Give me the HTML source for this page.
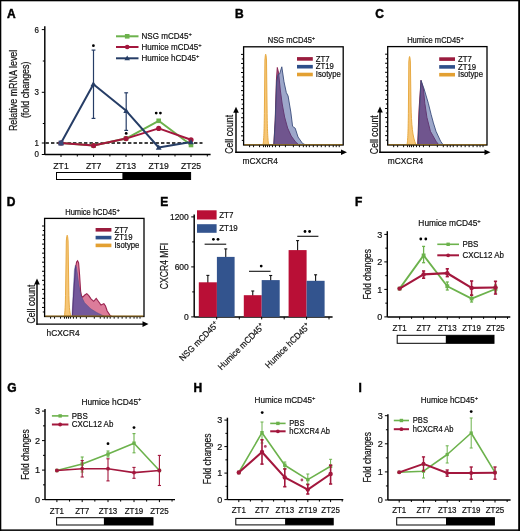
<!DOCTYPE html>
<html><head><meta charset="utf-8"><style>
html,body{margin:0;padding:0;background:#fff;}
svg{display:block;will-change:transform;font-family:"Liberation Sans", sans-serif;}
</style></head><body>
<svg width="520" height="532" viewBox="0 0 520 532">
<rect width="520" height="532" fill="#fff"/>
<rect x="0" y="0" width="520" height="1.3" fill="#000"/>
<rect x="0" y="0" width="1.3" height="531" fill="#000"/>
<rect x="518.2" y="0" width="1.8" height="531" fill="#000"/>
<rect x="0" y="529.4" width="520" height="1.5" fill="#000"/>
<text transform="translate(7.1 17.8) scale(1 1)" font-size="12" text-anchor="start" font-weight="bold" fill="#000" stroke="#000" stroke-width="0.45">A</text>
<text transform="translate(235.0 17.9) scale(1 1)" font-size="12" text-anchor="start" font-weight="bold" fill="#000" stroke="#000" stroke-width="0.45">B</text>
<text transform="translate(375.3 17.6) scale(1 1)" font-size="12" text-anchor="start" font-weight="bold" fill="#000" stroke="#000" stroke-width="0.45">C</text>
<text transform="translate(6.8 206.3) scale(1 1)" font-size="12" text-anchor="start" font-weight="bold" fill="#000" stroke="#000" stroke-width="0.45">D</text>
<text transform="translate(160.2 206.3) scale(1 1)" font-size="12" text-anchor="start" font-weight="bold" fill="#000" stroke="#000" stroke-width="0.45">E</text>
<text transform="translate(355.0 206.0) scale(1 1)" font-size="12" text-anchor="start" font-weight="bold" fill="#000" stroke="#000" stroke-width="0.45">F</text>
<text transform="translate(7.2 391.7) scale(1 1)" font-size="12" text-anchor="start" font-weight="bold" fill="#000" stroke="#000" stroke-width="0.45">G</text>
<text transform="translate(193.4 391.7) scale(1 1)" font-size="12" text-anchor="start" font-weight="bold" fill="#000" stroke="#000" stroke-width="0.45">H</text>
<text transform="translate(358.6 391.7) scale(1 1)" font-size="12" text-anchor="start" font-weight="bold" fill="#000" stroke="#000" stroke-width="0.45">I</text>
<line x1="44.8" y1="26.3" x2="44.8" y2="155" stroke="#000" stroke-width="1.45"/>
<line x1="41.8" y1="29.6" x2="44.8" y2="29.6" stroke="#000" stroke-width="1"/>
<text transform="translate(39.0 32.5) scale(0.93 1)" font-size="8.56" text-anchor="end" font-weight="normal" fill="#111" stroke="#111" stroke-width="0.2">6</text>
<line x1="41.8" y1="92.3" x2="44.8" y2="92.3" stroke="#000" stroke-width="1"/>
<text transform="translate(39.0 95.2) scale(0.93 1)" font-size="8.56" text-anchor="end" font-weight="normal" fill="#111" stroke="#111" stroke-width="0.2">3</text>
<line x1="41.8" y1="143" x2="44.8" y2="143" stroke="#000" stroke-width="1"/>
<text transform="translate(39.0 145.9) scale(0.93 1)" font-size="8.56" text-anchor="end" font-weight="normal" fill="#111" stroke="#111" stroke-width="0.2">1</text>
<line x1="41.8" y1="154.5" x2="44.8" y2="154.5" stroke="#000" stroke-width="1"/>
<text transform="translate(39.0 157.4) scale(0.93 1)" font-size="8.56" text-anchor="end" font-weight="normal" fill="#111" stroke="#111" stroke-width="0.2">0</text>
<line x1="42.8" y1="61" x2="44.8" y2="61" stroke="#000" stroke-width="1"/>
<line x1="42.8" y1="123.5" x2="44.8" y2="123.5" stroke="#000" stroke-width="1"/>
<text transform="translate(16.8 90.4) rotate(-90) scale(0.88 1)" font-size="10.17" text-anchor="middle" font-weight="normal" fill="#111" stroke="#111" stroke-width="0.2">Relative mRNA level</text>
<text transform="translate(29.2 89.8) rotate(-90) scale(0.88 1)" font-size="10.17" text-anchor="middle" font-weight="normal" fill="#111" stroke="#111" stroke-width="0.2">(fold changes)</text>
<line x1="44.8" y1="154.5" x2="210.6" y2="154.5" stroke="#000" stroke-width="1.45"/>
<line x1="61" y1="154.5" x2="61" y2="157.0" stroke="#000" stroke-width="1"/>
<line x1="93.6" y1="154.5" x2="93.6" y2="157.0" stroke="#000" stroke-width="1"/>
<line x1="126" y1="154.5" x2="126" y2="157.0" stroke="#000" stroke-width="1"/>
<line x1="158.7" y1="154.5" x2="158.7" y2="157.0" stroke="#000" stroke-width="1"/>
<line x1="191" y1="154.5" x2="191" y2="157.0" stroke="#000" stroke-width="1"/>
<line x1="77.3" y1="154.5" x2="77.3" y2="156.5" stroke="#000" stroke-width="1"/>
<line x1="109.9" y1="154.5" x2="109.9" y2="156.5" stroke="#000" stroke-width="1"/>
<line x1="142.3" y1="154.5" x2="142.3" y2="156.5" stroke="#000" stroke-width="1"/>
<line x1="175.0" y1="154.5" x2="175.0" y2="156.5" stroke="#000" stroke-width="1"/>
<line x1="207.3" y1="154.5" x2="207.3" y2="156.5" stroke="#000" stroke-width="1"/>
<text transform="translate(61 168.6) scale(0.93 1)" font-size="9.31" text-anchor="middle" font-weight="normal" fill="#111" stroke="#111" stroke-width="0.2">ZT1</text>
<text transform="translate(93.6 168.6) scale(0.93 1)" font-size="9.31" text-anchor="middle" font-weight="normal" fill="#111" stroke="#111" stroke-width="0.2">ZT7</text>
<text transform="translate(126 168.6) scale(0.93 1)" font-size="9.31" text-anchor="middle" font-weight="normal" fill="#111" stroke="#111" stroke-width="0.2">ZT13</text>
<text transform="translate(158.7 168.6) scale(0.93 1)" font-size="9.31" text-anchor="middle" font-weight="normal" fill="#111" stroke="#111" stroke-width="0.2">ZT19</text>
<text transform="translate(191 168.6) scale(0.93 1)" font-size="9.31" text-anchor="middle" font-weight="normal" fill="#111" stroke="#111" stroke-width="0.2">ZT25</text>
<rect x="56.5" y="172.5" width="134.1" height="7.0" fill="#fff" stroke="#000" stroke-width="1"/>
<rect x="122.4" y="172.5" width="68.2" height="7.0" fill="#000"/>
<line x1="45.5" y1="143" x2="202.5" y2="143" stroke="#000" stroke-width="1.4" stroke-dasharray="3.4,2.1"/>
<line x1="93.5" y1="50.1" x2="93.5" y2="118.4" stroke="#263d66" stroke-width="1.2"/>
<line x1="91.6" y1="50.1" x2="95.4" y2="50.1" stroke="#263d66" stroke-width="1.2"/>
<line x1="91.6" y1="118.4" x2="95.4" y2="118.4" stroke="#263d66" stroke-width="1.2"/>
<line x1="126.2" y1="92.8" x2="126.2" y2="130.4" stroke="#263d66" stroke-width="1.2"/>
<line x1="124.3" y1="92.8" x2="128.1" y2="92.8" stroke="#263d66" stroke-width="1.2"/>
<line x1="124.3" y1="130.4" x2="128.1" y2="130.4" stroke="#263d66" stroke-width="1.2"/>
<polyline points="61,143 93.6,145.6 126,138.6 158.7,120.8 191,145" fill="none" stroke="#6cb24c" stroke-width="2" stroke-linejoin="round"/>
<polyline points="61,143 93.6,145.6 126,138.6 158.7,128.4 191,139.8" fill="none" stroke="#a3173d" stroke-width="2" stroke-linejoin="round"/>
<polyline points="61,143 93.4,84.2 126.2,110.8 158.7,147.5 191,142.1" fill="none" stroke="#263d66" stroke-width="2" stroke-linejoin="round"/>
<rect x="91.3" y="143.3" width="4.6" height="4.6" fill="#6cb24c"/>
<rect x="123.7" y="136.3" width="4.6" height="4.6" fill="#6cb24c"/>
<rect x="156.4" y="118.5" width="4.6" height="4.6" fill="#6cb24c"/>
<rect x="188.7" y="142.7" width="4.6" height="4.6" fill="#6cb24c"/>
<circle cx="61" cy="143" r="2.6" fill="#a3173d"/>
<circle cx="93.6" cy="145.6" r="2.6" fill="#a3173d"/>
<circle cx="126" cy="138.6" r="2.6" fill="#a3173d"/>
<circle cx="158.7" cy="128.4" r="2.6" fill="#a3173d"/>
<circle cx="191" cy="139.8" r="2.6" fill="#a3173d"/>
<path d="M61,140.12 L63.88,145.16 L58.12,145.16 Z" fill="#263d66"/>
<path d="M93.4,81.32 L96.28,86.36 L90.52,86.36 Z" fill="#263d66"/>
<path d="M126.2,107.92 L129.08,112.96 L123.32,112.96 Z" fill="#263d66"/>
<path d="M158.7,144.62 L161.58,149.66 L155.82,149.66 Z" fill="#263d66"/>
<path d="M191,139.22 L193.88,144.26 L188.12,144.26 Z" fill="#263d66"/>
<rect x="58.6" y="140.6" width="4.8" height="4.8" fill="#3a4a78"/>
<circle cx="93.4" cy="45.7" r="1.4" fill="#000"/>
<circle cx="126.2" cy="133.4" r="1.4" fill="#000"/>
<circle cx="156.2" cy="113.1" r="1.4" fill="#000"/>
<circle cx="160.4" cy="113.1" r="1.4" fill="#000"/>
<line x1="116" y1="36.3" x2="138.5" y2="36.3" stroke="#6cb24c" stroke-width="2"/>
<rect x="124.9" y="34.0" width="4.6" height="4.6" fill="#6cb24c"/>
<text transform="translate(141.5 39.2) scale(0.93 1)" font-size="8.67" text-anchor="start" font-weight="normal" fill="#111" stroke="#111" stroke-width="0.2">NSG mCD45<tspan font-size="6.2" dy="-3.3">+</tspan></text>
<line x1="116" y1="47" x2="138.5" y2="47" stroke="#a3173d" stroke-width="2"/>
<circle cx="127.2" cy="47" r="2.3" fill="#a3173d"/>
<text transform="translate(141.5 49.9) scale(0.93 1)" font-size="8.67" text-anchor="start" font-weight="normal" fill="#111" stroke="#111" stroke-width="0.2">Humice mCD45<tspan font-size="6.2" dy="-3.3">+</tspan></text>
<line x1="116" y1="58.3" x2="138.5" y2="58.3" stroke="#263d66" stroke-width="2"/>
<path d="M127.2,55.54 L129.96,60.37 L124.44,60.37 Z" fill="#263d66"/>
<text transform="translate(141.5 61.2) scale(0.93 1)" font-size="8.67" text-anchor="start" font-weight="normal" fill="#111" stroke="#111" stroke-width="0.2">Humice hCD45<tspan font-size="6.2" dy="-3.3">+</tspan></text>
<path d="M263.0,144.6 C263.8,141 264.2,130 264.4,110 L264.9,60 Q265.7,48.5 266.5,60 L267.1,110 C267.3,130 267.8,141 268.8,144.6 Z" fill="#f6c676" stroke="#e4a438" stroke-width="0.9"/>
<path d="M273.8,144.6 L275.2,120 L276.4,80 L277.3,67.5 L278.6,72.9 L280.3,90 L282.2,104 L284.6,117 L287.6,128 L291.2,136 L295.2,141.5 L298.5,144.6 Z" fill="#a45a86" stroke="#8a2452" stroke-width="1.0"/>
<path d="M273.9,144.6 L275.3,120 L276.6,82 L278.0,74.5 L279.6,74 L281.8,66.8 L284.0,81.8 L286.3,92.5 L288.1,96 L290.8,112 L292.6,126.4 L295.2,128.2 L298.0,137 L302.5,143.4 L305,144.6 Z" fill="#3c5096" stroke="#3a4c7a" stroke-width="0.9" fill-opacity="0.5"/>
<line x1="243.6" y1="144.6" x2="343.2" y2="144.6" stroke="#e4a438" stroke-width="1"/>
<line x1="241.0" y1="54.4" x2="243.6" y2="54.4" stroke="#000" stroke-width="1.0"/>
<line x1="241.8" y1="58.92" x2="243.6" y2="58.92" stroke="#000" stroke-width="1.0"/>
<line x1="241.0" y1="63.45" x2="243.6" y2="63.45" stroke="#000" stroke-width="1.0"/>
<line x1="241.8" y1="67.97" x2="243.6" y2="67.97" stroke="#000" stroke-width="1.0"/>
<line x1="241.0" y1="72.5" x2="243.6" y2="72.5" stroke="#000" stroke-width="1.0"/>
<line x1="241.8" y1="77.03" x2="243.6" y2="77.03" stroke="#000" stroke-width="1.0"/>
<line x1="241.0" y1="81.55" x2="243.6" y2="81.55" stroke="#000" stroke-width="1.0"/>
<line x1="241.8" y1="86.08" x2="243.6" y2="86.08" stroke="#000" stroke-width="1.0"/>
<line x1="241.0" y1="90.6" x2="243.6" y2="90.6" stroke="#000" stroke-width="1.0"/>
<line x1="241.8" y1="95.13" x2="243.6" y2="95.13" stroke="#000" stroke-width="1.0"/>
<line x1="241.0" y1="99.65" x2="243.6" y2="99.65" stroke="#000" stroke-width="1.0"/>
<line x1="241.8" y1="104.18" x2="243.6" y2="104.18" stroke="#000" stroke-width="1.0"/>
<line x1="241.0" y1="108.7" x2="243.6" y2="108.7" stroke="#000" stroke-width="1.0"/>
<line x1="241.8" y1="113.23" x2="243.6" y2="113.23" stroke="#000" stroke-width="1.0"/>
<line x1="241.0" y1="117.75" x2="243.6" y2="117.75" stroke="#000" stroke-width="1.0"/>
<line x1="241.8" y1="122.28" x2="243.6" y2="122.28" stroke="#000" stroke-width="1.0"/>
<line x1="241.0" y1="126.8" x2="243.6" y2="126.8" stroke="#000" stroke-width="1.0"/>
<line x1="241.8" y1="131.33" x2="243.6" y2="131.33" stroke="#000" stroke-width="1.0"/>
<line x1="241.0" y1="135.85" x2="243.6" y2="135.85" stroke="#000" stroke-width="1.0"/>
<line x1="241.8" y1="140.38" x2="243.6" y2="140.38" stroke="#000" stroke-width="1.0"/>
<line x1="249.58" y1="145" x2="249.58" y2="147.2" stroke="#111" stroke-width="1.0"/>
<line x1="253.56" y1="145" x2="253.56" y2="147.2" stroke="#111" stroke-width="1.0"/>
<line x1="259.54" y1="145" x2="259.54" y2="147.2" stroke="#111" stroke-width="1.0"/>
<line x1="263.52" y1="145" x2="263.52" y2="147.2" stroke="#111" stroke-width="1.0"/>
<line x1="265.51" y1="145" x2="265.51" y2="147.2" stroke="#111" stroke-width="1.0"/>
<line x1="267.5" y1="145" x2="267.5" y2="147.2" stroke="#111" stroke-width="1.0"/>
<line x1="269.5" y1="145" x2="269.5" y2="147.2" stroke="#111" stroke-width="1.0"/>
<line x1="272.48" y1="145" x2="272.48" y2="147.2" stroke="#111" stroke-width="1.0"/>
<line x1="275.47" y1="145" x2="275.47" y2="147.2" stroke="#111" stroke-width="1.0"/>
<line x1="279.46" y1="145" x2="279.46" y2="147.2" stroke="#111" stroke-width="1.0"/>
<line x1="285.43" y1="145" x2="285.43" y2="147.2" stroke="#111" stroke-width="1.0"/>
<line x1="293.4" y1="145" x2="293.4" y2="147.2" stroke="#111" stroke-width="1.0"/>
<line x1="299.38" y1="145" x2="299.38" y2="147.2" stroke="#111" stroke-width="1.0"/>
<line x1="303.36" y1="145" x2="303.36" y2="147.2" stroke="#111" stroke-width="1.0"/>
<line x1="306.35" y1="145" x2="306.35" y2="147.2" stroke="#111" stroke-width="1.0"/>
<line x1="309.34" y1="145" x2="309.34" y2="147.2" stroke="#111" stroke-width="1.0"/>
<line x1="313.32" y1="145" x2="313.32" y2="147.2" stroke="#111" stroke-width="1.0"/>
<line x1="317.3" y1="145" x2="317.3" y2="147.2" stroke="#111" stroke-width="1.0"/>
<line x1="321.29" y1="145" x2="321.29" y2="147.2" stroke="#111" stroke-width="1.0"/>
<line x1="325.27" y1="145" x2="325.27" y2="147.2" stroke="#111" stroke-width="1.0"/>
<line x1="329.26" y1="145" x2="329.26" y2="147.2" stroke="#111" stroke-width="1.0"/>
<line x1="333.24" y1="145" x2="333.24" y2="147.2" stroke="#111" stroke-width="1.0"/>
<line x1="336.23" y1="145" x2="336.23" y2="147.2" stroke="#111" stroke-width="1.0"/>
<line x1="339.22" y1="145" x2="339.22" y2="147.2" stroke="#111" stroke-width="1.0"/>
<rect x="243.6" y="46.8" width="99.6" height="98.2" fill="none" stroke="#000" stroke-width="1.3"/>
<line x1="244.3" y1="144.7" x2="342.5" y2="144.7" stroke="#8a6a28" stroke-width="1.0"/>
<text transform="translate(291.5 42.9) scale(0.93 1)" font-size="8.13" text-anchor="middle" font-weight="normal" fill="#111" stroke="#111" stroke-width="0.2">NSG mCD45<tspan font-size="6.2" dy="-3.3">+</tspan></text>
<line x1="236" y1="109.8" x2="236" y2="153.0" stroke="#000" stroke-width="1.4"/>
<line x1="235.3" y1="152.3" x2="344" y2="152.3" stroke="#000" stroke-width="1.4"/>
<path d="M236,106.8 L238.8,112.8 L233.2,112.8 Z" fill="#000" stroke="none" stroke-width="1"/>
<path d="M347,152.3 L341,155.1 L341,149.5 Z" fill="#000" stroke="none" stroke-width="1"/>
<text transform="translate(232.9 134.35) rotate(-90) scale(0.82 1)" font-size="10.7" text-anchor="middle" font-weight="normal" fill="#111" stroke="#111" stroke-width="0.2">Cell count</text>
<text transform="translate(242.6 164.1) scale(0.93 1)" font-size="8.99" text-anchor="start" font-weight="normal" fill="#111" stroke="#111" stroke-width="0.2">mCXCR4</text>
<rect x="297.0" y="57.1" width="15.8" height="3.6" fill="#9a1c3e"/>
<text transform="translate(315.8 61.6) scale(0.93 1)" font-size="8.35" text-anchor="start" font-weight="normal" fill="#111" stroke="#111" stroke-width="0.2">ZT7</text>
<rect x="297.0" y="64.9" width="15.8" height="3.6" fill="#2e4f8a"/>
<text transform="translate(315.8 69.4) scale(0.93 1)" font-size="8.35" text-anchor="start" font-weight="normal" fill="#111" stroke="#111" stroke-width="0.2">ZT19</text>
<rect x="297.0" y="72.7" width="15.8" height="3.6" fill="#e3a032"/>
<text transform="translate(315.8 77.2) scale(0.93 1)" font-size="8.35" text-anchor="start" font-weight="normal" fill="#111" stroke="#111" stroke-width="0.2">Isotype</text>
<path d="M407.0,144.6 C407.8,141 408.2,130 408.4,110 L408.8,62 Q409.6,51 410.4,62 L411.0,105 C411.5,125 412.5,137 416,144.6 Z" fill="#f6c676" stroke="#e4a438" stroke-width="0.9"/>
<path d="M417.7,144.6 L419,110 L421,80.4 L423.4,89 L424.8,103.2 L426.9,117.3 L430.4,131.3 L436,141.2 L438.5,144.6 Z" fill="#a45a86" stroke="#8a2452" stroke-width="1.0"/>
<path d="M418,144.6 L419.5,110 L421,80.4 L424.1,89 L428.3,103.2 L431.1,114.4 L433.4,122.9 L436,131.3 L440.6,141.2 L443,144.6 Z" fill="#3c5096" stroke="#3a4c7a" stroke-width="0.9" fill-opacity="0.5"/>
<line x1="387.7" y1="144.6" x2="487" y2="144.6" stroke="#e4a438" stroke-width="1"/>
<line x1="385.1" y1="54.2" x2="387.7" y2="54.2" stroke="#000" stroke-width="1.0"/>
<line x1="385.9" y1="58.73" x2="387.7" y2="58.73" stroke="#000" stroke-width="1.0"/>
<line x1="385.1" y1="63.25" x2="387.7" y2="63.25" stroke="#000" stroke-width="1.0"/>
<line x1="385.9" y1="67.78" x2="387.7" y2="67.78" stroke="#000" stroke-width="1.0"/>
<line x1="385.1" y1="72.3" x2="387.7" y2="72.3" stroke="#000" stroke-width="1.0"/>
<line x1="385.9" y1="76.83" x2="387.7" y2="76.83" stroke="#000" stroke-width="1.0"/>
<line x1="385.1" y1="81.35" x2="387.7" y2="81.35" stroke="#000" stroke-width="1.0"/>
<line x1="385.9" y1="85.88" x2="387.7" y2="85.88" stroke="#000" stroke-width="1.0"/>
<line x1="385.1" y1="90.4" x2="387.7" y2="90.4" stroke="#000" stroke-width="1.0"/>
<line x1="385.9" y1="94.93" x2="387.7" y2="94.93" stroke="#000" stroke-width="1.0"/>
<line x1="385.1" y1="99.45" x2="387.7" y2="99.45" stroke="#000" stroke-width="1.0"/>
<line x1="385.9" y1="103.98" x2="387.7" y2="103.98" stroke="#000" stroke-width="1.0"/>
<line x1="385.1" y1="108.5" x2="387.7" y2="108.5" stroke="#000" stroke-width="1.0"/>
<line x1="385.9" y1="113.03" x2="387.7" y2="113.03" stroke="#000" stroke-width="1.0"/>
<line x1="385.1" y1="117.55" x2="387.7" y2="117.55" stroke="#000" stroke-width="1.0"/>
<line x1="385.9" y1="122.08" x2="387.7" y2="122.08" stroke="#000" stroke-width="1.0"/>
<line x1="385.1" y1="126.6" x2="387.7" y2="126.6" stroke="#000" stroke-width="1.0"/>
<line x1="385.9" y1="131.13" x2="387.7" y2="131.13" stroke="#000" stroke-width="1.0"/>
<line x1="385.1" y1="135.65" x2="387.7" y2="135.65" stroke="#000" stroke-width="1.0"/>
<line x1="385.9" y1="140.18" x2="387.7" y2="140.18" stroke="#000" stroke-width="1.0"/>
<line x1="393.66" y1="145" x2="393.66" y2="147.2" stroke="#111" stroke-width="1.0"/>
<line x1="397.63" y1="145" x2="397.63" y2="147.2" stroke="#111" stroke-width="1.0"/>
<line x1="403.59" y1="145" x2="403.59" y2="147.2" stroke="#111" stroke-width="1.0"/>
<line x1="407.56" y1="145" x2="407.56" y2="147.2" stroke="#111" stroke-width="1.0"/>
<line x1="409.55" y1="145" x2="409.55" y2="147.2" stroke="#111" stroke-width="1.0"/>
<line x1="411.53" y1="145" x2="411.53" y2="147.2" stroke="#111" stroke-width="1.0"/>
<line x1="413.52" y1="145" x2="413.52" y2="147.2" stroke="#111" stroke-width="1.0"/>
<line x1="416.5" y1="145" x2="416.5" y2="147.2" stroke="#111" stroke-width="1.0"/>
<line x1="419.48" y1="145" x2="419.48" y2="147.2" stroke="#111" stroke-width="1.0"/>
<line x1="423.45" y1="145" x2="423.45" y2="147.2" stroke="#111" stroke-width="1.0"/>
<line x1="429.41" y1="145" x2="429.41" y2="147.2" stroke="#111" stroke-width="1.0"/>
<line x1="437.35" y1="145" x2="437.35" y2="147.2" stroke="#111" stroke-width="1.0"/>
<line x1="443.31" y1="145" x2="443.31" y2="147.2" stroke="#111" stroke-width="1.0"/>
<line x1="447.28" y1="145" x2="447.28" y2="147.2" stroke="#111" stroke-width="1.0"/>
<line x1="450.26" y1="145" x2="450.26" y2="147.2" stroke="#111" stroke-width="1.0"/>
<line x1="453.24" y1="145" x2="453.24" y2="147.2" stroke="#111" stroke-width="1.0"/>
<line x1="457.21" y1="145" x2="457.21" y2="147.2" stroke="#111" stroke-width="1.0"/>
<line x1="461.18" y1="145" x2="461.18" y2="147.2" stroke="#111" stroke-width="1.0"/>
<line x1="465.15" y1="145" x2="465.15" y2="147.2" stroke="#111" stroke-width="1.0"/>
<line x1="469.13" y1="145" x2="469.13" y2="147.2" stroke="#111" stroke-width="1.0"/>
<line x1="473.1" y1="145" x2="473.1" y2="147.2" stroke="#111" stroke-width="1.0"/>
<line x1="477.07" y1="145" x2="477.07" y2="147.2" stroke="#111" stroke-width="1.0"/>
<line x1="480.05" y1="145" x2="480.05" y2="147.2" stroke="#111" stroke-width="1.0"/>
<line x1="483.03" y1="145" x2="483.03" y2="147.2" stroke="#111" stroke-width="1.0"/>
<rect x="387.7" y="46.6" width="99.3" height="98.4" fill="none" stroke="#000" stroke-width="1.3"/>
<line x1="388.4" y1="144.7" x2="486.3" y2="144.7" stroke="#8a6a28" stroke-width="1.0"/>
<text transform="translate(435.5 42.9) scale(0.93 1)" font-size="8.13" text-anchor="middle" font-weight="normal" fill="#111" stroke="#111" stroke-width="0.2">Humice mCD45<tspan font-size="6.2" dy="-3.3">+</tspan></text>
<line x1="380" y1="109.6" x2="380" y2="152.9" stroke="#000" stroke-width="1.4"/>
<line x1="379.3" y1="152.2" x2="487.5" y2="152.2" stroke="#000" stroke-width="1.4"/>
<path d="M380,106.6 L382.8,112.6 L377.2,112.6 Z" fill="#000" stroke="none" stroke-width="1"/>
<path d="M490.5,152.2 L484.5,155.0 L484.5,149.4 Z" fill="#000" stroke="none" stroke-width="1"/>
<text transform="translate(377.9 134.7) rotate(-90) scale(0.82 1)" font-size="10.7" text-anchor="middle" font-weight="normal" fill="#111" stroke="#111" stroke-width="0.2">Cell count</text>
<text transform="translate(387.8 164.1) scale(0.93 1)" font-size="8.99" text-anchor="start" font-weight="normal" fill="#111" stroke="#111" stroke-width="0.2">mCXCR4</text>
<rect x="439.2" y="57.3" width="15.8" height="3.6" fill="#9a1c3e"/>
<text transform="translate(458.0 61.8) scale(0.93 1)" font-size="8.35" text-anchor="start" font-weight="normal" fill="#111" stroke="#111" stroke-width="0.2">ZT7</text>
<rect x="439.2" y="65.1" width="15.8" height="3.6" fill="#2e4f8a"/>
<text transform="translate(458.0 69.6) scale(0.93 1)" font-size="8.35" text-anchor="start" font-weight="normal" fill="#111" stroke="#111" stroke-width="0.2">ZT19</text>
<rect x="439.2" y="72.9" width="15.8" height="3.6" fill="#e3a032"/>
<text transform="translate(458.0 77.4) scale(0.93 1)" font-size="8.35" text-anchor="start" font-weight="normal" fill="#111" stroke="#111" stroke-width="0.2">Isotype</text>
<path d="M64.3,316.2 C65.0,313 65.4,305 65.6,290 L66.3,241 Q67.2,229.5 68.1,241 L68.8,290 C69.0,305 69.6,313 71.0,316.2 Z" fill="#f6c676" stroke="#e4a438" stroke-width="0.9"/>
<path d="M72.4,316.2 L73.8,292 L75.5,268 L76.6,262.0 L77.6,260.8 L78.6,263 L79.6,275 L80.6,291 L81.5,295.8 L82.7,297.2 L84.8,295 L86.8,293.6 L88.8,295.6 L91.0,298.8 L93.7,301.3 L96.2,298.4 L98.5,301.5 L101,305.0 L103.9,303.6 L105.5,306 L107.2,311.0 L110.2,315.5 L111.5,316.2 Z" fill="#dc7c9a" stroke="#9a2450" stroke-width="1.1"/>
<path d="M72.0,316.2 L73.2,292 L74.4,270 L75.4,265.2 L76.4,267 L77.6,275 L79,285.6 L80.9,295.3 L84.6,302.7 L90.7,308.8 L96.8,312.5 L104.1,316.2 Z" fill="#34449e" stroke="#3c4a80" stroke-width="0.4" fill-opacity="0.62"/>
<line x1="44.6" y1="316.2" x2="144" y2="316.2" stroke="#e4a438" stroke-width="1"/>
<line x1="42.0" y1="226.0" x2="44.6" y2="226.0" stroke="#000" stroke-width="1.0"/>
<line x1="42.8" y1="230.53" x2="44.6" y2="230.53" stroke="#000" stroke-width="1.0"/>
<line x1="42.0" y1="235.05" x2="44.6" y2="235.05" stroke="#000" stroke-width="1.0"/>
<line x1="42.8" y1="239.58" x2="44.6" y2="239.58" stroke="#000" stroke-width="1.0"/>
<line x1="42.0" y1="244.1" x2="44.6" y2="244.1" stroke="#000" stroke-width="1.0"/>
<line x1="42.8" y1="248.63" x2="44.6" y2="248.63" stroke="#000" stroke-width="1.0"/>
<line x1="42.0" y1="253.15" x2="44.6" y2="253.15" stroke="#000" stroke-width="1.0"/>
<line x1="42.8" y1="257.68" x2="44.6" y2="257.68" stroke="#000" stroke-width="1.0"/>
<line x1="42.0" y1="262.2" x2="44.6" y2="262.2" stroke="#000" stroke-width="1.0"/>
<line x1="42.8" y1="266.72" x2="44.6" y2="266.72" stroke="#000" stroke-width="1.0"/>
<line x1="42.0" y1="271.25" x2="44.6" y2="271.25" stroke="#000" stroke-width="1.0"/>
<line x1="42.8" y1="275.77" x2="44.6" y2="275.77" stroke="#000" stroke-width="1.0"/>
<line x1="42.0" y1="280.3" x2="44.6" y2="280.3" stroke="#000" stroke-width="1.0"/>
<line x1="42.8" y1="284.82" x2="44.6" y2="284.82" stroke="#000" stroke-width="1.0"/>
<line x1="42.0" y1="289.35" x2="44.6" y2="289.35" stroke="#000" stroke-width="1.0"/>
<line x1="42.8" y1="293.87" x2="44.6" y2="293.87" stroke="#000" stroke-width="1.0"/>
<line x1="42.0" y1="298.4" x2="44.6" y2="298.4" stroke="#000" stroke-width="1.0"/>
<line x1="42.8" y1="302.92" x2="44.6" y2="302.92" stroke="#000" stroke-width="1.0"/>
<line x1="42.0" y1="307.45" x2="44.6" y2="307.45" stroke="#000" stroke-width="1.0"/>
<line x1="42.8" y1="311.97" x2="44.6" y2="311.97" stroke="#000" stroke-width="1.0"/>
<line x1="50.56" y1="316.5" x2="50.56" y2="318.7" stroke="#111" stroke-width="1.0"/>
<line x1="54.54" y1="316.5" x2="54.54" y2="318.7" stroke="#111" stroke-width="1.0"/>
<line x1="60.5" y1="316.5" x2="60.5" y2="318.7" stroke="#111" stroke-width="1.0"/>
<line x1="64.48" y1="316.5" x2="64.48" y2="318.7" stroke="#111" stroke-width="1.0"/>
<line x1="66.47" y1="316.5" x2="66.47" y2="318.7" stroke="#111" stroke-width="1.0"/>
<line x1="68.46" y1="316.5" x2="68.46" y2="318.7" stroke="#111" stroke-width="1.0"/>
<line x1="70.44" y1="316.5" x2="70.44" y2="318.7" stroke="#111" stroke-width="1.0"/>
<line x1="73.43" y1="316.5" x2="73.43" y2="318.7" stroke="#111" stroke-width="1.0"/>
<line x1="76.41" y1="316.5" x2="76.41" y2="318.7" stroke="#111" stroke-width="1.0"/>
<line x1="80.38" y1="316.5" x2="80.38" y2="318.7" stroke="#111" stroke-width="1.0"/>
<line x1="86.35" y1="316.5" x2="86.35" y2="318.7" stroke="#111" stroke-width="1.0"/>
<line x1="94.3" y1="316.5" x2="94.3" y2="318.7" stroke="#111" stroke-width="1.0"/>
<line x1="100.26" y1="316.5" x2="100.26" y2="318.7" stroke="#111" stroke-width="1.0"/>
<line x1="104.24" y1="316.5" x2="104.24" y2="318.7" stroke="#111" stroke-width="1.0"/>
<line x1="107.22" y1="316.5" x2="107.22" y2="318.7" stroke="#111" stroke-width="1.0"/>
<line x1="110.2" y1="316.5" x2="110.2" y2="318.7" stroke="#111" stroke-width="1.0"/>
<line x1="114.18" y1="316.5" x2="114.18" y2="318.7" stroke="#111" stroke-width="1.0"/>
<line x1="118.16" y1="316.5" x2="118.16" y2="318.7" stroke="#111" stroke-width="1.0"/>
<line x1="122.13" y1="316.5" x2="122.13" y2="318.7" stroke="#111" stroke-width="1.0"/>
<line x1="126.11" y1="316.5" x2="126.11" y2="318.7" stroke="#111" stroke-width="1.0"/>
<line x1="130.08" y1="316.5" x2="130.08" y2="318.7" stroke="#111" stroke-width="1.0"/>
<line x1="134.06" y1="316.5" x2="134.06" y2="318.7" stroke="#111" stroke-width="1.0"/>
<line x1="137.04" y1="316.5" x2="137.04" y2="318.7" stroke="#111" stroke-width="1.0"/>
<line x1="140.02" y1="316.5" x2="140.02" y2="318.7" stroke="#111" stroke-width="1.0"/>
<rect x="44.6" y="218.4" width="99.4" height="98.1" fill="none" stroke="#000" stroke-width="1.3"/>
<line x1="45.3" y1="316.2" x2="143.3" y2="316.2" stroke="#8a6a28" stroke-width="1.0"/>
<text transform="translate(92.5 215.0) scale(0.93 1)" font-size="8.13" text-anchor="middle" font-weight="normal" fill="#111" stroke="#111" stroke-width="0.2">Humice hCD45<tspan font-size="6.2" dy="-3.3">+</tspan></text>
<line x1="37" y1="281.5" x2="37" y2="324.8" stroke="#000" stroke-width="1.4"/>
<line x1="36.3" y1="324.1" x2="145.5" y2="324.1" stroke="#000" stroke-width="1.4"/>
<path d="M37,278.5 L39.8,284.5 L34.2,284.5 Z" fill="#000" stroke="none" stroke-width="1"/>
<path d="M148.5,324.1 L142.5,326.9 L142.5,321.3 Z" fill="#000" stroke="none" stroke-width="1"/>
<text transform="translate(34.6 304.1) rotate(-90) scale(0.82 1)" font-size="10.7" text-anchor="middle" font-weight="normal" fill="#111" stroke="#111" stroke-width="0.2">Cell count</text>
<text transform="translate(46.6 335.6) scale(0.93 1)" font-size="8.99" text-anchor="start" font-weight="normal" fill="#111" stroke="#111" stroke-width="0.2">hCXCR4</text>
<rect x="95.6" y="228.0" width="15.8" height="3.6" fill="#9a1c3e"/>
<text transform="translate(114.4 232.5) scale(0.93 1)" font-size="8.35" text-anchor="start" font-weight="normal" fill="#111" stroke="#111" stroke-width="0.2">ZT7</text>
<rect x="95.6" y="235.8" width="15.8" height="3.6" fill="#2e4f8a"/>
<text transform="translate(114.4 240.3) scale(0.93 1)" font-size="8.35" text-anchor="start" font-weight="normal" fill="#111" stroke="#111" stroke-width="0.2">ZT19</text>
<rect x="95.6" y="243.6" width="15.8" height="3.6" fill="#e3a032"/>
<text transform="translate(114.4 248.1) scale(0.93 1)" font-size="8.35" text-anchor="start" font-weight="normal" fill="#111" stroke="#111" stroke-width="0.2">Isotype</text>
<line x1="194.2" y1="214.5" x2="194.2" y2="316.9" stroke="#000" stroke-width="1.45"/>
<line x1="194.2" y1="316.9" x2="332.6" y2="316.9" stroke="#000" stroke-width="1.45"/>
<line x1="191.2" y1="216.9" x2="194.2" y2="216.9" stroke="#000" stroke-width="1"/>
<text transform="translate(188.8 219.9) scale(0.97 1)" font-size="8.77" text-anchor="end" font-weight="normal" fill="#111" stroke="#111" stroke-width="0.2">1200</text>
<line x1="191.2" y1="266.9" x2="194.2" y2="266.9" stroke="#000" stroke-width="1"/>
<text transform="translate(188.8 269.9) scale(0.97 1)" font-size="8.77" text-anchor="end" font-weight="normal" fill="#111" stroke="#111" stroke-width="0.2">600</text>
<line x1="191.2" y1="316.9" x2="194.2" y2="316.9" stroke="#000" stroke-width="1"/>
<text transform="translate(188.8 319.9) scale(0.97 1)" font-size="8.77" text-anchor="end" font-weight="normal" fill="#111" stroke="#111" stroke-width="0.2">0</text>
<line x1="192.2" y1="241.9" x2="194.2" y2="241.9" stroke="#000" stroke-width="1"/>
<line x1="192.2" y1="291.9" x2="194.2" y2="291.9" stroke="#000" stroke-width="1"/>
<line x1="216.7" y1="316.9" x2="216.7" y2="319.4" stroke="#000" stroke-width="1"/>
<line x1="261.7" y1="316.9" x2="261.7" y2="319.4" stroke="#000" stroke-width="1"/>
<line x1="306.6" y1="316.9" x2="306.6" y2="319.4" stroke="#000" stroke-width="1"/>
<line x1="239.3" y1="316.9" x2="239.3" y2="319.4" stroke="#000" stroke-width="1"/>
<line x1="284.2" y1="316.9" x2="284.2" y2="319.4" stroke="#000" stroke-width="1"/>
<line x1="329" y1="316.9" x2="329" y2="319.4" stroke="#000" stroke-width="1"/>
<text transform="translate(168.1 266.0) rotate(-90) scale(0.82 1)" font-size="10.49" text-anchor="middle" font-weight="normal" fill="#111" stroke="#111" stroke-width="0.2">CXCR4 MFI</text>
<line x1="207.85" y1="275.4" x2="207.85" y2="283.3" stroke="#111" stroke-width="1.1"/>
<line x1="206.35" y1="275.4" x2="209.35" y2="275.4" stroke="#111" stroke-width="1.1"/>
<rect x="198.8" y="282.3" width="18.1" height="34.6" fill="#b90f36"/>
<line x1="225.75" y1="248.9" x2="225.75" y2="257.9" stroke="#111" stroke-width="1.1"/>
<line x1="224.25" y1="248.9" x2="227.25" y2="248.9" stroke="#111" stroke-width="1.1"/>
<rect x="216.9" y="256.9" width="17.7" height="60.0" fill="#33548e"/>
<line x1="252.75" y1="291.0" x2="252.75" y2="296.2" stroke="#111" stroke-width="1.1"/>
<line x1="251.25" y1="291.0" x2="254.25" y2="291.0" stroke="#111" stroke-width="1.1"/>
<rect x="243.8" y="295.2" width="17.9" height="21.7" fill="#b90f36"/>
<line x1="270.7" y1="275.5" x2="270.7" y2="281.1" stroke="#111" stroke-width="1.1"/>
<line x1="269.2" y1="275.5" x2="272.2" y2="275.5" stroke="#111" stroke-width="1.1"/>
<rect x="261.7" y="280.1" width="18.0" height="36.8" fill="#33548e"/>
<line x1="297.6" y1="240.6" x2="297.6" y2="251.1" stroke="#111" stroke-width="1.1"/>
<line x1="296.1" y1="240.6" x2="299.1" y2="240.6" stroke="#111" stroke-width="1.1"/>
<rect x="288.6" y="250.1" width="18.0" height="66.8" fill="#b90f36"/>
<line x1="315.6" y1="274.8" x2="315.6" y2="281.8" stroke="#111" stroke-width="1.1"/>
<line x1="314.1" y1="274.8" x2="317.1" y2="274.8" stroke="#111" stroke-width="1.1"/>
<rect x="306.6" y="280.8" width="18.0" height="36.1" fill="#33548e"/>
<line x1="204.6" y1="244.2" x2="226.2" y2="244.2" stroke="#111" stroke-width="1.1"/>
<circle cx="213.4" cy="239.3" r="1.4" fill="#000"/>
<circle cx="218.0" cy="239.3" r="1.4" fill="#000"/>
<line x1="249" y1="271.3" x2="270.6" y2="271.3" stroke="#111" stroke-width="1.1"/>
<circle cx="261.2" cy="266.1" r="1.4" fill="#000"/>
<line x1="297.3" y1="236.3" x2="318.4" y2="236.3" stroke="#111" stroke-width="1.1"/>
<circle cx="305.0" cy="231.5" r="1.4" fill="#000"/>
<circle cx="309.6" cy="231.5" r="1.4" fill="#000"/>
<rect x="197" y="210.3" width="19.6" height="9.2" fill="#b90f36"/>
<rect x="197" y="224.2" width="19.6" height="8.6" fill="#33548e"/>
<text transform="translate(219.2 218.2) scale(0.93 1)" font-size="8.56" text-anchor="start" font-weight="normal" fill="#111" stroke="#111" stroke-width="0.2">ZT7</text>
<text transform="translate(219.2 231.4) scale(0.93 1)" font-size="8.56" text-anchor="start" font-weight="normal" fill="#111" stroke="#111" stroke-width="0.2">ZT19</text>
<text transform="translate(219.2 325.2) rotate(-45) scale(0.93 1)" font-size="8.88" text-anchor="end" font-weight="normal" fill="#111" stroke="#111" stroke-width="0.2">NSG mCD45<tspan font-size="6.2" dy="-3.3">+</tspan></text>
<text transform="translate(265.0 327.0) rotate(-45) scale(0.93 1)" font-size="8.88" text-anchor="end" font-weight="normal" fill="#111" stroke="#111" stroke-width="0.2">Humice mCD45<tspan font-size="6.2" dy="-3.3">+</tspan></text>
<text transform="translate(310.6 326.8) rotate(-45) scale(0.93 1)" font-size="8.88" text-anchor="end" font-weight="normal" fill="#111" stroke="#111" stroke-width="0.2">Humice hCD45<tspan font-size="6.2" dy="-3.3">+</tspan></text>
<line x1="387.3" y1="231.2" x2="387.3" y2="316.9" stroke="#000" stroke-width="1.45"/>
<line x1="387.3" y1="316.9" x2="510.3" y2="316.9" stroke="#000" stroke-width="1.45"/>
<line x1="384.3" y1="234.4" x2="387.3" y2="234.4" stroke="#000" stroke-width="1"/>
<text transform="translate(382.3 237.5) scale(1.0 1)" font-size="9.1" text-anchor="end" font-weight="normal" fill="#111" stroke="#111" stroke-width="0.2">3</text>
<line x1="384.3" y1="261.9" x2="387.3" y2="261.9" stroke="#000" stroke-width="1"/>
<text transform="translate(382.3 265.0) scale(1.0 1)" font-size="9.1" text-anchor="end" font-weight="normal" fill="#111" stroke="#111" stroke-width="0.2">2</text>
<line x1="384.3" y1="289.4" x2="387.3" y2="289.4" stroke="#000" stroke-width="1"/>
<text transform="translate(382.3 292.5) scale(1.0 1)" font-size="9.1" text-anchor="end" font-weight="normal" fill="#111" stroke="#111" stroke-width="0.2">1</text>
<line x1="384.3" y1="316.9" x2="387.3" y2="316.9" stroke="#000" stroke-width="1"/>
<text transform="translate(382.3 320.0) scale(1.0 1)" font-size="9.1" text-anchor="end" font-weight="normal" fill="#111" stroke="#111" stroke-width="0.2">0</text>
<line x1="385.3" y1="248.15" x2="387.3" y2="248.15" stroke="#000" stroke-width="1"/>
<line x1="385.3" y1="275.65" x2="387.3" y2="275.65" stroke="#000" stroke-width="1"/>
<line x1="385.3" y1="303.15" x2="387.3" y2="303.15" stroke="#000" stroke-width="1"/>
<line x1="399.6" y1="316.9" x2="399.6" y2="319.4" stroke="#000" stroke-width="1"/>
<line x1="411.6" y1="316.9" x2="411.6" y2="318.9" stroke="#000" stroke-width="1"/>
<line x1="423.6" y1="316.9" x2="423.6" y2="319.4" stroke="#000" stroke-width="1"/>
<line x1="435.6" y1="316.9" x2="435.6" y2="318.9" stroke="#000" stroke-width="1"/>
<line x1="447.3" y1="316.9" x2="447.3" y2="319.4" stroke="#000" stroke-width="1"/>
<line x1="459.3" y1="316.9" x2="459.3" y2="318.9" stroke="#000" stroke-width="1"/>
<line x1="471.6" y1="316.9" x2="471.6" y2="319.4" stroke="#000" stroke-width="1"/>
<line x1="483.6" y1="316.9" x2="483.6" y2="318.9" stroke="#000" stroke-width="1"/>
<line x1="495.5" y1="316.9" x2="495.5" y2="319.4" stroke="#000" stroke-width="1"/>
<line x1="507.5" y1="316.9" x2="507.5" y2="318.9" stroke="#000" stroke-width="1"/>
<text transform="translate(399.6 330.5) scale(0.93 1)" font-size="8.56" text-anchor="middle" font-weight="normal" fill="#111" stroke="#111" stroke-width="0.2">ZT1</text>
<text transform="translate(423.6 330.5) scale(0.93 1)" font-size="8.56" text-anchor="middle" font-weight="normal" fill="#111" stroke="#111" stroke-width="0.2">ZT7</text>
<text transform="translate(447.3 330.5) scale(0.93 1)" font-size="8.56" text-anchor="middle" font-weight="normal" fill="#111" stroke="#111" stroke-width="0.2">ZT13</text>
<text transform="translate(471.6 330.5) scale(0.93 1)" font-size="8.56" text-anchor="middle" font-weight="normal" fill="#111" stroke="#111" stroke-width="0.2">ZT19</text>
<text transform="translate(495.5 330.5) scale(0.93 1)" font-size="8.56" text-anchor="middle" font-weight="normal" fill="#111" stroke="#111" stroke-width="0.2">ZT25</text>
<rect x="397.2" y="335.3" width="96.8" height="8.0" fill="#fff" stroke="#000" stroke-width="1"/>
<rect x="445.8" y="335.3" width="48.2" height="8.0" fill="#000"/>
<text transform="translate(370.6 274.3) rotate(-90) scale(0.82 1)" font-size="10.27" text-anchor="middle" font-weight="normal" fill="#111" stroke="#111" stroke-width="0.2">Fold changes</text>
<text transform="translate(449.5 226.3) scale(0.93 1)" font-size="8.99" text-anchor="middle" font-weight="normal" fill="#111" stroke="#111" stroke-width="0.2">Humice mCD45<tspan font-size="6.2" dy="-3.3">+</tspan></text>
<line x1="423.6" y1="246.4" x2="423.6" y2="262.7" stroke="#6cb24c" stroke-width="1.3"/>
<line x1="422.1" y1="246.4" x2="425.1" y2="246.4" stroke="#6cb24c" stroke-width="1.3"/>
<line x1="422.1" y1="262.7" x2="425.1" y2="262.7" stroke="#6cb24c" stroke-width="1.3"/>
<line x1="447.3" y1="282" x2="447.3" y2="290" stroke="#6cb24c" stroke-width="1.3"/>
<line x1="445.8" y1="282" x2="448.8" y2="282" stroke="#6cb24c" stroke-width="1.3"/>
<line x1="445.8" y1="290" x2="448.8" y2="290" stroke="#6cb24c" stroke-width="1.3"/>
<line x1="471.6" y1="295" x2="471.6" y2="302" stroke="#6cb24c" stroke-width="1.3"/>
<line x1="470.1" y1="295" x2="473.1" y2="295" stroke="#6cb24c" stroke-width="1.3"/>
<line x1="470.1" y1="302" x2="473.1" y2="302" stroke="#6cb24c" stroke-width="1.3"/>
<line x1="495.5" y1="285" x2="495.5" y2="292" stroke="#6cb24c" stroke-width="1.3"/>
<line x1="494.0" y1="285" x2="497.0" y2="285" stroke="#6cb24c" stroke-width="1.3"/>
<line x1="494.0" y1="292" x2="497.0" y2="292" stroke="#6cb24c" stroke-width="1.3"/>
<polyline points="399.6,288.6 423.6,255.4 447.3,286.2 471.6,298.6 495.5,289" fill="none" stroke="#6cb24c" stroke-width="1.8" stroke-linejoin="round"/>
<rect x="397.7" y="286.7" width="3.8" height="3.8" fill="#6cb24c"/>
<rect x="421.7" y="253.5" width="3.8" height="3.8" fill="#6cb24c"/>
<rect x="445.4" y="284.3" width="3.8" height="3.8" fill="#6cb24c"/>
<rect x="469.7" y="296.7" width="3.8" height="3.8" fill="#6cb24c"/>
<rect x="493.6" y="287.1" width="3.8" height="3.8" fill="#6cb24c"/>
<line x1="423.6" y1="271" x2="423.6" y2="278.2" stroke="#a3173d" stroke-width="1.6"/>
<line x1="422.0" y1="271" x2="425.2" y2="271" stroke="#a3173d" stroke-width="1.6"/>
<line x1="422.0" y1="278.2" x2="425.2" y2="278.2" stroke="#a3173d" stroke-width="1.6"/>
<line x1="447.3" y1="268.8" x2="447.3" y2="276.6" stroke="#a3173d" stroke-width="1.6"/>
<line x1="445.7" y1="268.8" x2="448.9" y2="268.8" stroke="#a3173d" stroke-width="1.6"/>
<line x1="445.7" y1="276.6" x2="448.9" y2="276.6" stroke="#a3173d" stroke-width="1.6"/>
<line x1="471.6" y1="281" x2="471.6" y2="295.2" stroke="#a3173d" stroke-width="1.6"/>
<line x1="470.0" y1="281" x2="473.2" y2="281" stroke="#a3173d" stroke-width="1.6"/>
<line x1="470.0" y1="295.2" x2="473.2" y2="295.2" stroke="#a3173d" stroke-width="1.6"/>
<line x1="495.5" y1="281.3" x2="495.5" y2="294" stroke="#a3173d" stroke-width="1.6"/>
<line x1="493.9" y1="281.3" x2="497.1" y2="281.3" stroke="#a3173d" stroke-width="1.6"/>
<line x1="493.9" y1="294" x2="497.1" y2="294" stroke="#a3173d" stroke-width="1.6"/>
<polyline points="399.6,288.6 423.6,274.4 447.3,273.2 471.6,287.9 495.5,287.5" fill="none" stroke="#a3173d" stroke-width="2.2" stroke-linejoin="round"/>
<circle cx="399.6" cy="288.6" r="2.2" fill="#a3173d"/>
<circle cx="423.6" cy="274.4" r="2.2" fill="#a3173d"/>
<circle cx="447.3" cy="273.2" r="2.2" fill="#a3173d"/>
<circle cx="471.6" cy="287.9" r="2.2" fill="#a3173d"/>
<circle cx="495.5" cy="287.5" r="2.2" fill="#a3173d"/>
<circle cx="420.8" cy="239" r="1.4" fill="#000"/>
<circle cx="425.8" cy="239" r="1.4" fill="#000"/>
<line x1="437.3" y1="244.3" x2="459" y2="244.3" stroke="#6cb24c" stroke-width="1.6"/>
<rect x="446.45" y="242.6" width="3.4" height="3.4" fill="#6cb24c"/>
<text transform="translate(462.4 247.2) scale(0.93 1)" font-size="8.56" text-anchor="start" font-weight="normal" fill="#111" stroke="#111" stroke-width="0.2">PBS</text>
<line x1="437.3" y1="255.3" x2="459" y2="255.3" stroke="#a3173d" stroke-width="2.0"/>
<circle cx="448.15" cy="255.3" r="1.9" fill="#a3173d"/>
<text transform="translate(462.4 258.2) scale(0.93 1)" font-size="8.56" text-anchor="start" font-weight="normal" fill="#111" stroke="#111" stroke-width="0.2">CXCL12 Ab</text>
<line x1="45" y1="409.0" x2="45" y2="499.6" stroke="#000" stroke-width="1.45"/>
<line x1="45" y1="499.6" x2="175" y2="499.6" stroke="#000" stroke-width="1.45"/>
<line x1="42" y1="411.1" x2="45" y2="411.1" stroke="#000" stroke-width="1"/>
<text transform="translate(40.0 414.2) scale(1.0 1)" font-size="9.1" text-anchor="end" font-weight="normal" fill="#111" stroke="#111" stroke-width="0.2">3</text>
<line x1="42" y1="440.6" x2="45" y2="440.6" stroke="#000" stroke-width="1"/>
<text transform="translate(40.0 443.7) scale(1.0 1)" font-size="9.1" text-anchor="end" font-weight="normal" fill="#111" stroke="#111" stroke-width="0.2">2</text>
<line x1="42" y1="470.1" x2="45" y2="470.1" stroke="#000" stroke-width="1"/>
<text transform="translate(40.0 473.2) scale(1.0 1)" font-size="9.1" text-anchor="end" font-weight="normal" fill="#111" stroke="#111" stroke-width="0.2">1</text>
<line x1="42" y1="499.6" x2="45" y2="499.6" stroke="#000" stroke-width="1"/>
<text transform="translate(40.0 502.7) scale(1.0 1)" font-size="9.1" text-anchor="end" font-weight="normal" fill="#111" stroke="#111" stroke-width="0.2">0</text>
<line x1="43" y1="425.85" x2="45" y2="425.85" stroke="#000" stroke-width="1"/>
<line x1="43" y1="455.35" x2="45" y2="455.35" stroke="#000" stroke-width="1"/>
<line x1="43" y1="484.85" x2="45" y2="484.85" stroke="#000" stroke-width="1"/>
<line x1="56.9" y1="499.6" x2="56.9" y2="502.1" stroke="#000" stroke-width="1"/>
<line x1="69.55" y1="499.6" x2="69.55" y2="501.6" stroke="#000" stroke-width="1"/>
<line x1="82.2" y1="499.6" x2="82.2" y2="502.1" stroke="#000" stroke-width="1"/>
<line x1="94.85" y1="499.6" x2="94.85" y2="501.6" stroke="#000" stroke-width="1"/>
<line x1="108" y1="499.6" x2="108" y2="502.1" stroke="#000" stroke-width="1"/>
<line x1="120.65" y1="499.6" x2="120.65" y2="501.6" stroke="#000" stroke-width="1"/>
<line x1="134" y1="499.6" x2="134" y2="502.1" stroke="#000" stroke-width="1"/>
<line x1="146.65" y1="499.6" x2="146.65" y2="501.6" stroke="#000" stroke-width="1"/>
<line x1="159.4" y1="499.6" x2="159.4" y2="502.1" stroke="#000" stroke-width="1"/>
<line x1="172.05" y1="499.6" x2="172.05" y2="501.6" stroke="#000" stroke-width="1"/>
<text transform="translate(56.9 513.9) scale(0.93 1)" font-size="8.56" text-anchor="middle" font-weight="normal" fill="#111" stroke="#111" stroke-width="0.2">ZT1</text>
<text transform="translate(82.2 513.9) scale(0.93 1)" font-size="8.56" text-anchor="middle" font-weight="normal" fill="#111" stroke="#111" stroke-width="0.2">ZT7</text>
<text transform="translate(108 513.9) scale(0.93 1)" font-size="8.56" text-anchor="middle" font-weight="normal" fill="#111" stroke="#111" stroke-width="0.2">ZT13</text>
<text transform="translate(134 513.9) scale(0.93 1)" font-size="8.56" text-anchor="middle" font-weight="normal" fill="#111" stroke="#111" stroke-width="0.2">ZT19</text>
<text transform="translate(159.4 513.9) scale(0.93 1)" font-size="8.56" text-anchor="middle" font-weight="normal" fill="#111" stroke="#111" stroke-width="0.2">ZT25</text>
<rect x="56.6" y="517.7" width="96.4" height="7.3" fill="#fff" stroke="#000" stroke-width="1"/>
<rect x="103.9" y="517.7" width="49.1" height="7.3" fill="#000"/>
<text transform="translate(28.7 454.55) rotate(-90) scale(0.82 1)" font-size="10.27" text-anchor="middle" font-weight="normal" fill="#111" stroke="#111" stroke-width="0.2">Fold changes</text>
<text transform="translate(111.4 404.5) scale(0.93 1)" font-size="8.99" text-anchor="middle" font-weight="normal" fill="#111" stroke="#111" stroke-width="0.2">Humice hCD45<tspan font-size="6.2" dy="-3.3">+</tspan></text>
<line x1="82.2" y1="457" x2="82.2" y2="472" stroke="#6cb24c" stroke-width="1.1"/>
<line x1="80.7" y1="457" x2="83.7" y2="457" stroke="#6cb24c" stroke-width="1.1"/>
<line x1="80.7" y1="472" x2="83.7" y2="472" stroke="#6cb24c" stroke-width="1.1"/>
<line x1="108" y1="451" x2="108" y2="457" stroke="#6cb24c" stroke-width="1.1"/>
<line x1="106.5" y1="451" x2="109.5" y2="451" stroke="#6cb24c" stroke-width="1.1"/>
<line x1="106.5" y1="457" x2="109.5" y2="457" stroke="#6cb24c" stroke-width="1.1"/>
<line x1="134" y1="433.6" x2="134" y2="452.8" stroke="#6cb24c" stroke-width="1.1"/>
<line x1="132.5" y1="433.6" x2="135.5" y2="433.6" stroke="#6cb24c" stroke-width="1.1"/>
<line x1="132.5" y1="452.8" x2="135.5" y2="452.8" stroke="#6cb24c" stroke-width="1.1"/>
<polyline points="56.9,470.5 82.2,464 108,454.1 134,443.2 159.4,470.5" fill="none" stroke="#6cb24c" stroke-width="1.6" stroke-linejoin="round"/>
<rect x="55.2" y="468.8" width="3.4" height="3.4" fill="#6cb24c"/>
<rect x="80.5" y="462.3" width="3.4" height="3.4" fill="#6cb24c"/>
<rect x="106.3" y="452.4" width="3.4" height="3.4" fill="#6cb24c"/>
<rect x="132.3" y="441.5" width="3.4" height="3.4" fill="#6cb24c"/>
<rect x="157.7" y="468.8" width="3.4" height="3.4" fill="#6cb24c"/>
<line x1="82.2" y1="460.6" x2="82.2" y2="477" stroke="#a3173d" stroke-width="1.1"/>
<line x1="80.6" y1="460.6" x2="83.8" y2="460.6" stroke="#a3173d" stroke-width="1.1"/>
<line x1="80.6" y1="477" x2="83.8" y2="477" stroke="#a3173d" stroke-width="1.1"/>
<line x1="108" y1="458.8" x2="108" y2="480.9" stroke="#a3173d" stroke-width="1.1"/>
<line x1="106.4" y1="458.8" x2="109.6" y2="458.8" stroke="#a3173d" stroke-width="1.1"/>
<line x1="106.4" y1="480.9" x2="109.6" y2="480.9" stroke="#a3173d" stroke-width="1.1"/>
<line x1="134" y1="467.4" x2="134" y2="478.3" stroke="#a3173d" stroke-width="1.1"/>
<line x1="132.4" y1="467.4" x2="135.6" y2="467.4" stroke="#a3173d" stroke-width="1.1"/>
<line x1="132.4" y1="478.3" x2="135.6" y2="478.3" stroke="#a3173d" stroke-width="1.1"/>
<line x1="159.4" y1="455.4" x2="159.4" y2="485.5" stroke="#a3173d" stroke-width="1.1"/>
<line x1="157.8" y1="455.4" x2="161.0" y2="455.4" stroke="#a3173d" stroke-width="1.1"/>
<line x1="157.8" y1="485.5" x2="161.0" y2="485.5" stroke="#a3173d" stroke-width="1.1"/>
<polyline points="56.9,470.5 82.2,468.7 108,468.7 134,472.6 159.4,470.5" fill="none" stroke="#a3173d" stroke-width="1.6" stroke-linejoin="round"/>
<circle cx="56.9" cy="470.5" r="1.9" fill="#a3173d"/>
<circle cx="82.2" cy="468.7" r="1.9" fill="#a3173d"/>
<circle cx="108" cy="468.7" r="1.9" fill="#a3173d"/>
<circle cx="134" cy="472.6" r="1.9" fill="#a3173d"/>
<circle cx="159.4" cy="470.5" r="1.9" fill="#a3173d"/>
<circle cx="108.0" cy="443.7" r="1.4" fill="#000"/>
<circle cx="134.0" cy="427.6" r="1.4" fill="#000"/>
<line x1="51.9" y1="415.9" x2="68.4" y2="415.9" stroke="#6cb24c" stroke-width="1.6"/>
<rect x="58.45" y="414.2" width="3.4" height="3.4" fill="#6cb24c"/>
<text transform="translate(71.8 418.8) scale(0.93 1)" font-size="8.56" text-anchor="start" font-weight="normal" fill="#111" stroke="#111" stroke-width="0.2">PBS</text>
<line x1="51.9" y1="424.5" x2="68.4" y2="424.5" stroke="#a3173d" stroke-width="2.0"/>
<circle cx="60.15" cy="424.5" r="1.9" fill="#a3173d"/>
<text transform="translate(71.8 427.4) scale(0.93 1)" font-size="8.56" text-anchor="start" font-weight="normal" fill="#111" stroke="#111" stroke-width="0.2">CXCL12 Ab</text>
<line x1="227.4" y1="417.7" x2="227.4" y2="499.6" stroke="#000" stroke-width="1.45"/>
<line x1="227.4" y1="499.6" x2="343.3" y2="499.6" stroke="#000" stroke-width="1.45"/>
<line x1="224.4" y1="420.1" x2="227.4" y2="420.1" stroke="#000" stroke-width="1"/>
<text transform="translate(222.4 423.2) scale(1.0 1)" font-size="9.1" text-anchor="end" font-weight="normal" fill="#111" stroke="#111" stroke-width="0.2">3</text>
<line x1="224.4" y1="446.6" x2="227.4" y2="446.6" stroke="#000" stroke-width="1"/>
<text transform="translate(222.4 449.7) scale(1.0 1)" font-size="9.1" text-anchor="end" font-weight="normal" fill="#111" stroke="#111" stroke-width="0.2">2</text>
<line x1="224.4" y1="473.1" x2="227.4" y2="473.1" stroke="#000" stroke-width="1"/>
<text transform="translate(222.4 476.2) scale(1.0 1)" font-size="9.1" text-anchor="end" font-weight="normal" fill="#111" stroke="#111" stroke-width="0.2">1</text>
<line x1="224.4" y1="499.6" x2="227.4" y2="499.6" stroke="#000" stroke-width="1"/>
<text transform="translate(222.4 502.7) scale(1.0 1)" font-size="9.1" text-anchor="end" font-weight="normal" fill="#111" stroke="#111" stroke-width="0.2">0</text>
<line x1="225.4" y1="433.35" x2="227.4" y2="433.35" stroke="#000" stroke-width="1"/>
<line x1="225.4" y1="459.85" x2="227.4" y2="459.85" stroke="#000" stroke-width="1"/>
<line x1="225.4" y1="486.35" x2="227.4" y2="486.35" stroke="#000" stroke-width="1"/>
<line x1="238.8" y1="499.6" x2="238.8" y2="502.1" stroke="#000" stroke-width="1"/>
<line x1="250.4" y1="499.6" x2="250.4" y2="501.6" stroke="#000" stroke-width="1"/>
<line x1="262" y1="499.6" x2="262" y2="502.1" stroke="#000" stroke-width="1"/>
<line x1="273.6" y1="499.6" x2="273.6" y2="501.6" stroke="#000" stroke-width="1"/>
<line x1="284.8" y1="499.6" x2="284.8" y2="502.1" stroke="#000" stroke-width="1"/>
<line x1="296.4" y1="499.6" x2="296.4" y2="501.6" stroke="#000" stroke-width="1"/>
<line x1="307.8" y1="499.6" x2="307.8" y2="502.1" stroke="#000" stroke-width="1"/>
<line x1="319.4" y1="499.6" x2="319.4" y2="501.6" stroke="#000" stroke-width="1"/>
<line x1="330.6" y1="499.6" x2="330.6" y2="502.1" stroke="#000" stroke-width="1"/>
<line x1="342.2" y1="499.6" x2="342.2" y2="501.6" stroke="#000" stroke-width="1"/>
<text transform="translate(238.8 513.2) scale(0.93 1)" font-size="8.56" text-anchor="middle" font-weight="normal" fill="#111" stroke="#111" stroke-width="0.2">ZT1</text>
<text transform="translate(262 513.2) scale(0.93 1)" font-size="8.56" text-anchor="middle" font-weight="normal" fill="#111" stroke="#111" stroke-width="0.2">ZT7</text>
<text transform="translate(284.8 513.2) scale(0.93 1)" font-size="8.56" text-anchor="middle" font-weight="normal" fill="#111" stroke="#111" stroke-width="0.2">ZT13</text>
<text transform="translate(307.8 513.2) scale(0.93 1)" font-size="8.56" text-anchor="middle" font-weight="normal" fill="#111" stroke="#111" stroke-width="0.2">ZT19</text>
<text transform="translate(330.6 513.2) scale(0.93 1)" font-size="8.56" text-anchor="middle" font-weight="normal" fill="#111" stroke="#111" stroke-width="0.2">ZT25</text>
<rect x="235.8" y="518.4" width="97.4" height="6.5" fill="#fff" stroke="#000" stroke-width="1"/>
<rect x="285.1" y="518.4" width="48.1" height="6.5" fill="#000"/>
<text transform="translate(210.8 458.9) rotate(-90) scale(0.82 1)" font-size="10.27" text-anchor="middle" font-weight="normal" fill="#111" stroke="#111" stroke-width="0.2">Fold changes</text>
<text transform="translate(285.0 403.3) scale(0.93 1)" font-size="8.77" text-anchor="middle" font-weight="normal" fill="#111" stroke="#111" stroke-width="0.2">Humice mCD45<tspan font-size="6.2" dy="-3.3">+</tspan></text>
<line x1="262" y1="422" x2="262" y2="443" stroke="#6cb24c" stroke-width="1.0"/>
<line x1="260.5" y1="422" x2="263.5" y2="422" stroke="#6cb24c" stroke-width="1.0"/>
<line x1="260.5" y1="443" x2="263.5" y2="443" stroke="#6cb24c" stroke-width="1.0"/>
<line x1="284.8" y1="462" x2="284.8" y2="468.6" stroke="#6cb24c" stroke-width="1.0"/>
<line x1="283.3" y1="462" x2="286.3" y2="462" stroke="#6cb24c" stroke-width="1.0"/>
<line x1="283.3" y1="468.6" x2="286.3" y2="468.6" stroke="#6cb24c" stroke-width="1.0"/>
<line x1="307.8" y1="474" x2="307.8" y2="484" stroke="#6cb24c" stroke-width="1.0"/>
<line x1="306.3" y1="474" x2="309.3" y2="474" stroke="#6cb24c" stroke-width="1.0"/>
<line x1="306.3" y1="484" x2="309.3" y2="484" stroke="#6cb24c" stroke-width="1.0"/>
<line x1="330.6" y1="459.3" x2="330.6" y2="473" stroke="#6cb24c" stroke-width="1.0"/>
<line x1="329.1" y1="459.3" x2="332.1" y2="459.3" stroke="#6cb24c" stroke-width="1.0"/>
<line x1="329.1" y1="473" x2="332.1" y2="473" stroke="#6cb24c" stroke-width="1.0"/>
<polyline points="238.8,472.5 262,432.7 284.8,465.2 307.8,479.6 330.6,466.3" fill="none" stroke="#6cb24c" stroke-width="1.6" stroke-linejoin="round"/>
<rect x="237.1" y="470.8" width="3.4" height="3.4" fill="#6cb24c"/>
<rect x="260.3" y="431.0" width="3.4" height="3.4" fill="#6cb24c"/>
<rect x="283.1" y="463.5" width="3.4" height="3.4" fill="#6cb24c"/>
<rect x="306.1" y="477.9" width="3.4" height="3.4" fill="#6cb24c"/>
<rect x="328.9" y="464.6" width="3.4" height="3.4" fill="#6cb24c"/>
<line x1="262" y1="439.8" x2="262" y2="464.1" stroke="#a3173d" stroke-width="1.6"/>
<line x1="260.4" y1="439.8" x2="263.6" y2="439.8" stroke="#a3173d" stroke-width="1.6"/>
<line x1="260.4" y1="464.1" x2="263.6" y2="464.1" stroke="#a3173d" stroke-width="1.6"/>
<line x1="284.8" y1="469" x2="284.8" y2="486.7" stroke="#a3173d" stroke-width="1.6"/>
<line x1="283.2" y1="469" x2="286.4" y2="469" stroke="#a3173d" stroke-width="1.6"/>
<line x1="283.2" y1="486.7" x2="286.4" y2="486.7" stroke="#a3173d" stroke-width="1.6"/>
<line x1="307.8" y1="484.5" x2="307.8" y2="494" stroke="#a3173d" stroke-width="1.6"/>
<line x1="306.2" y1="484.5" x2="309.4" y2="484.5" stroke="#a3173d" stroke-width="1.6"/>
<line x1="306.2" y1="494" x2="309.4" y2="494" stroke="#a3173d" stroke-width="1.6"/>
<line x1="330.6" y1="465.2" x2="330.6" y2="484" stroke="#a3173d" stroke-width="1.6"/>
<line x1="329.0" y1="465.2" x2="332.2" y2="465.2" stroke="#a3173d" stroke-width="1.6"/>
<line x1="329.0" y1="484" x2="332.2" y2="484" stroke="#a3173d" stroke-width="1.6"/>
<polyline points="238.8,472.5 262,452 284.8,477.4 307.8,489.6 330.6,474" fill="none" stroke="#a3173d" stroke-width="2.1" stroke-linejoin="round"/>
<circle cx="238.8" cy="472.5" r="2.2" fill="#a3173d"/>
<circle cx="262" cy="452" r="2.2" fill="#a3173d"/>
<circle cx="284.8" cy="477.4" r="2.2" fill="#a3173d"/>
<circle cx="307.8" cy="489.6" r="2.2" fill="#a3173d"/>
<circle cx="330.6" cy="474" r="2.2" fill="#a3173d"/>
<circle cx="262.2" cy="412.6" r="1.4" fill="#000"/>
<circle cx="265.3" cy="446.4" r="1.4" fill="#b04a6a"/>
<circle cx="301.9" cy="480" r="1.4" fill="#b04a6a"/>
<line x1="270.2" y1="423.4" x2="285.6" y2="423.4" stroke="#6cb24c" stroke-width="1.6"/>
<rect x="276.2" y="421.7" width="3.4" height="3.4" fill="#6cb24c"/>
<text transform="translate(289.3 426.3) scale(0.93 1)" font-size="8.13" text-anchor="start" font-weight="normal" fill="#111" stroke="#111" stroke-width="0.2">PBS</text>
<line x1="270.2" y1="431.3" x2="285.6" y2="431.3" stroke="#a3173d" stroke-width="2.0"/>
<circle cx="277.9" cy="431.3" r="1.9" fill="#a3173d"/>
<text transform="translate(289.3 434.2) scale(0.93 1)" font-size="8.13" text-anchor="start" font-weight="normal" fill="#111" stroke="#111" stroke-width="0.2">hCXCR4 Ab</text>
<line x1="387.9" y1="414.2" x2="387.9" y2="500" stroke="#000" stroke-width="1.45"/>
<line x1="387.9" y1="500" x2="510.6" y2="500" stroke="#000" stroke-width="1.45"/>
<line x1="384.9" y1="415.7" x2="387.9" y2="415.7" stroke="#000" stroke-width="1"/>
<text transform="translate(382.9 418.8) scale(1.0 1)" font-size="9.1" text-anchor="end" font-weight="normal" fill="#111" stroke="#111" stroke-width="0.2">3</text>
<line x1="384.9" y1="443.8" x2="387.9" y2="443.8" stroke="#000" stroke-width="1"/>
<text transform="translate(382.9 446.9) scale(1.0 1)" font-size="9.1" text-anchor="end" font-weight="normal" fill="#111" stroke="#111" stroke-width="0.2">2</text>
<line x1="384.9" y1="471.9" x2="387.9" y2="471.9" stroke="#000" stroke-width="1"/>
<text transform="translate(382.9 475.0) scale(1.0 1)" font-size="9.1" text-anchor="end" font-weight="normal" fill="#111" stroke="#111" stroke-width="0.2">1</text>
<line x1="384.9" y1="500.0" x2="387.9" y2="500.0" stroke="#000" stroke-width="1"/>
<text transform="translate(382.9 503.1) scale(1.0 1)" font-size="9.1" text-anchor="end" font-weight="normal" fill="#111" stroke="#111" stroke-width="0.2">0</text>
<line x1="385.9" y1="429.75" x2="387.9" y2="429.75" stroke="#000" stroke-width="1"/>
<line x1="385.9" y1="457.85" x2="387.9" y2="457.85" stroke="#000" stroke-width="1"/>
<line x1="385.9" y1="485.95" x2="387.9" y2="485.95" stroke="#000" stroke-width="1"/>
<line x1="399.2" y1="500" x2="399.2" y2="502.5" stroke="#000" stroke-width="1"/>
<line x1="411.35" y1="500" x2="411.35" y2="502" stroke="#000" stroke-width="1"/>
<line x1="423.5" y1="500" x2="423.5" y2="502.5" stroke="#000" stroke-width="1"/>
<line x1="435.65" y1="500" x2="435.65" y2="502" stroke="#000" stroke-width="1"/>
<line x1="447.2" y1="500" x2="447.2" y2="502.5" stroke="#000" stroke-width="1"/>
<line x1="459.35" y1="500" x2="459.35" y2="502" stroke="#000" stroke-width="1"/>
<line x1="471.2" y1="500" x2="471.2" y2="502.5" stroke="#000" stroke-width="1"/>
<line x1="483.35" y1="500" x2="483.35" y2="502" stroke="#000" stroke-width="1"/>
<line x1="495" y1="500" x2="495" y2="502.5" stroke="#000" stroke-width="1"/>
<line x1="507.15" y1="500" x2="507.15" y2="502" stroke="#000" stroke-width="1"/>
<text transform="translate(399.2 512.6) scale(0.93 1)" font-size="8.56" text-anchor="middle" font-weight="normal" fill="#111" stroke="#111" stroke-width="0.2">ZT1</text>
<text transform="translate(423.5 512.6) scale(0.93 1)" font-size="8.56" text-anchor="middle" font-weight="normal" fill="#111" stroke="#111" stroke-width="0.2">ZT7</text>
<text transform="translate(447.2 512.6) scale(0.93 1)" font-size="8.56" text-anchor="middle" font-weight="normal" fill="#111" stroke="#111" stroke-width="0.2">ZT13</text>
<text transform="translate(471.2 512.6) scale(0.93 1)" font-size="8.56" text-anchor="middle" font-weight="normal" fill="#111" stroke="#111" stroke-width="0.2">ZT19</text>
<text transform="translate(495 512.6) scale(0.93 1)" font-size="8.56" text-anchor="middle" font-weight="normal" fill="#111" stroke="#111" stroke-width="0.2">ZT25</text>
<rect x="396.7" y="517.7" width="97.7" height="7.3" fill="#fff" stroke="#000" stroke-width="1"/>
<rect x="446" y="517.7" width="48.4" height="7.3" fill="#000"/>
<text transform="translate(371.1 457.35) rotate(-90) scale(0.82 1)" font-size="10.27" text-anchor="middle" font-weight="normal" fill="#111" stroke="#111" stroke-width="0.2">Fold changes</text>
<text transform="translate(449.4 403.0) scale(0.93 1)" font-size="8.56" text-anchor="middle" font-weight="normal" fill="#111" stroke="#111" stroke-width="0.2">Humice hCD45<tspan font-size="6.2" dy="-3.3">+</tspan></text>
<line x1="423.5" y1="465.4" x2="423.5" y2="478" stroke="#6cb24c" stroke-width="1.0"/>
<line x1="422.0" y1="465.4" x2="425.0" y2="465.4" stroke="#6cb24c" stroke-width="1.0"/>
<line x1="422.0" y1="478" x2="425.0" y2="478" stroke="#6cb24c" stroke-width="1.0"/>
<line x1="447.2" y1="445.8" x2="447.2" y2="463" stroke="#6cb24c" stroke-width="1.0"/>
<line x1="445.7" y1="445.8" x2="448.7" y2="445.8" stroke="#6cb24c" stroke-width="1.0"/>
<line x1="445.7" y1="463" x2="448.7" y2="463" stroke="#6cb24c" stroke-width="1.0"/>
<line x1="471.2" y1="418" x2="471.2" y2="448" stroke="#6cb24c" stroke-width="1.0"/>
<line x1="469.7" y1="418" x2="472.7" y2="418" stroke="#6cb24c" stroke-width="1.0"/>
<line x1="469.7" y1="448" x2="472.7" y2="448" stroke="#6cb24c" stroke-width="1.0"/>
<polyline points="399.2,472.3 423.5,471.2 447.2,454.5 471.2,433 495,472.3" fill="none" stroke="#6cb24c" stroke-width="1.6" stroke-linejoin="round"/>
<rect x="397.6" y="470.7" width="3.2" height="3.2" fill="#6cb24c"/>
<rect x="421.9" y="469.6" width="3.2" height="3.2" fill="#6cb24c"/>
<rect x="445.6" y="452.9" width="3.2" height="3.2" fill="#6cb24c"/>
<rect x="469.6" y="431.4" width="3.2" height="3.2" fill="#6cb24c"/>
<rect x="493.4" y="470.7" width="3.2" height="3.2" fill="#6cb24c"/>
<line x1="423.5" y1="456.9" x2="423.5" y2="471" stroke="#a3173d" stroke-width="1.4"/>
<line x1="421.9" y1="456.9" x2="425.1" y2="456.9" stroke="#a3173d" stroke-width="1.4"/>
<line x1="421.9" y1="471" x2="425.1" y2="471" stroke="#a3173d" stroke-width="1.4"/>
<line x1="447.2" y1="470" x2="447.2" y2="476.2" stroke="#a3173d" stroke-width="1.4"/>
<line x1="445.6" y1="470" x2="448.8" y2="470" stroke="#a3173d" stroke-width="1.4"/>
<line x1="445.6" y1="476.2" x2="448.8" y2="476.2" stroke="#a3173d" stroke-width="1.4"/>
<line x1="471.2" y1="467" x2="471.2" y2="479.2" stroke="#a3173d" stroke-width="1.4"/>
<line x1="469.6" y1="467" x2="472.8" y2="467" stroke="#a3173d" stroke-width="1.4"/>
<line x1="469.6" y1="479.2" x2="472.8" y2="479.2" stroke="#a3173d" stroke-width="1.4"/>
<line x1="495" y1="467" x2="495" y2="479.2" stroke="#a3173d" stroke-width="1.4"/>
<line x1="493.4" y1="467" x2="496.6" y2="467" stroke="#a3173d" stroke-width="1.4"/>
<line x1="493.4" y1="479.2" x2="496.6" y2="479.2" stroke="#a3173d" stroke-width="1.4"/>
<polyline points="399.2,472.3 423.5,463.8 447.2,473 471.2,473 495,472.8" fill="none" stroke="#a3173d" stroke-width="1.9" stroke-linejoin="round"/>
<circle cx="399.2" cy="472.3" r="2.0" fill="#a3173d"/>
<circle cx="423.5" cy="463.8" r="2.0" fill="#a3173d"/>
<circle cx="447.2" cy="473" r="2.0" fill="#a3173d"/>
<circle cx="471.2" cy="473" r="2.0" fill="#a3173d"/>
<circle cx="495" cy="472.8" r="2.0" fill="#a3173d"/>
<circle cx="471.2" cy="411.6" r="1.4" fill="#000"/>
<line x1="393.8" y1="420.5" x2="409" y2="420.5" stroke="#6cb24c" stroke-width="1.6"/>
<rect x="399.7" y="418.8" width="3.4" height="3.4" fill="#6cb24c"/>
<text transform="translate(412.8 423.4) scale(0.93 1)" font-size="8.13" text-anchor="start" font-weight="normal" fill="#111" stroke="#111" stroke-width="0.2">PBS</text>
<line x1="393.8" y1="429.2" x2="409" y2="429.2" stroke="#a3173d" stroke-width="2.0"/>
<circle cx="401.4" cy="429.2" r="1.9" fill="#a3173d"/>
<text transform="translate(412.8 432.1) scale(0.93 1)" font-size="8.13" text-anchor="start" font-weight="normal" fill="#111" stroke="#111" stroke-width="0.2">hCXCR4 Ab</text>
</svg></body></html>
